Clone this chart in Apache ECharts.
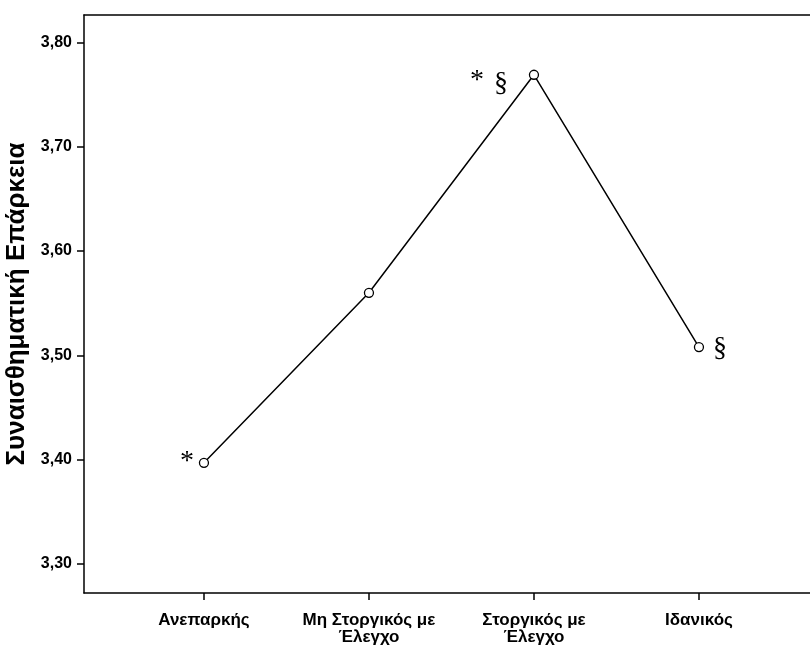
<!DOCTYPE html>
<html>
<head>
<meta charset="utf-8">
<script src="https://cdn.jsdelivr.net/npm/echarts@6/dist/echarts.min.js"></script>
<style>html,body{margin:0;padding:0;background:#fff}#c{width:810px;height:646px}</style>
</head>
<body>
<div id="c"></div>
<script>
var categories = ['Ανεπαρκής', 'Μη Στοργικός με\nΈλεγχο', 'Στοργικός με\nΈλεγχο', 'Ιδανικός'];
var values = [3.397, 3.560, 3.769, 3.508];
var markPointIndex = [0, 2, 2, 3];
var markText = ['*', '*', '§', '§'];
var yTicks = [3.30, 3.40, 3.50, 3.60, 3.70, 3.80];
var yTitle = 'Συναισθηματική Επάρκεια';

var chart = echarts.init(document.getElementById('c'));
var font = '"Liberation Sans", Arial, sans-serif';
var serif = '"Liberation Serif", "Times New Roman", serif';

var markOffsets = [[-17, -1], [-57, 6], [-33, 9], [21, 2]];
var markData = markPointIndex.map(function (idx, k) {
  return {
    value: [idx, values[idx]],
    label: { formatter: markText[k], offset: markOffsets[k] }
  };
});

chart.setOption({
  animation: false,
  backgroundColor: '#fff',
  grid: { left: 84, right: 0, top: 15, bottom: 53, containLabel: false, outerBoundsMode: 'none' },
  xAxis: [{
    type: 'value',
    min: -0.727,
    max: 3.673,
    axisLine: { show: true, onZero: false, lineStyle: { color: '#000', width: 1.5 } },
    axisTick: { show: true, length: 7, customValues: [0, 1, 2, 3], lineStyle: { color: '#000', width: 1.5 } },
    axisLabel: {
      customValues: [0, 1, 2, 3],
      formatter: function (v) { return categories[Math.round(v)]; },
      color: '#000', fontFamily: font, fontWeight: 'bold', fontSize: 17, lineHeight: 17, margin: 19
    },
    splitLine: { show: false }
  }, {
    type: 'value',
    position: 'top',
    min: -0.727,
    max: 3.673,
    axisLine: { show: true, onZero: false, lineStyle: { color: '#000', width: 1.5 } },
    axisTick: { show: false },
    axisLabel: { show: false },
    splitLine: { show: false }
  }],
  yAxis: {
    type: 'value',
    min: 3.2722,
    max: 3.8263,
    name: yTitle,
    nameLocation: 'middle',
    nameGap: 52,
    nameTextStyle: { color: '#000', fontFamily: font, fontWeight: 'bold', fontSize: 26 },
    axisLine: { show: true, onZero: false, lineStyle: { color: '#000', width: 1.5 } },
    axisTick: { show: true, length: 7, customValues: yTicks, lineStyle: { color: '#000', width: 1.5 } },
    axisLabel: {
      customValues: yTicks,
      formatter: function (v) { return v.toFixed(2).replace('.', ','); },
      color: '#000', fontFamily: font, fontWeight: 'bold', fontSize: 16, margin: 12
    },
    splitLine: { show: false }
  },
  series: [{
    type: 'line',
    data: values.map(function (v, i) { return [i, v]; }),
    symbol: 'circle',
    symbolSize: 9,
    showAllSymbol: true,
    itemStyle: { color: '#fff', borderColor: '#000', borderWidth: 1.3 },
    lineStyle: { color: '#000', width: 1.5 },
    z: 3
  }, {
    type: 'scatter',
    data: markData,
    symbol: 'circle',
    symbolSize: 1,
    itemStyle: { color: 'rgba(0,0,0,0)', opacity: 1 },
    label: { show: true, position: 'inside', color: '#000', opacity: 1, fontFamily: serif, fontSize: 28 },
    emphasis: { disabled: true },
    z: 4
  }]
});
</script>
</body>
</html>
